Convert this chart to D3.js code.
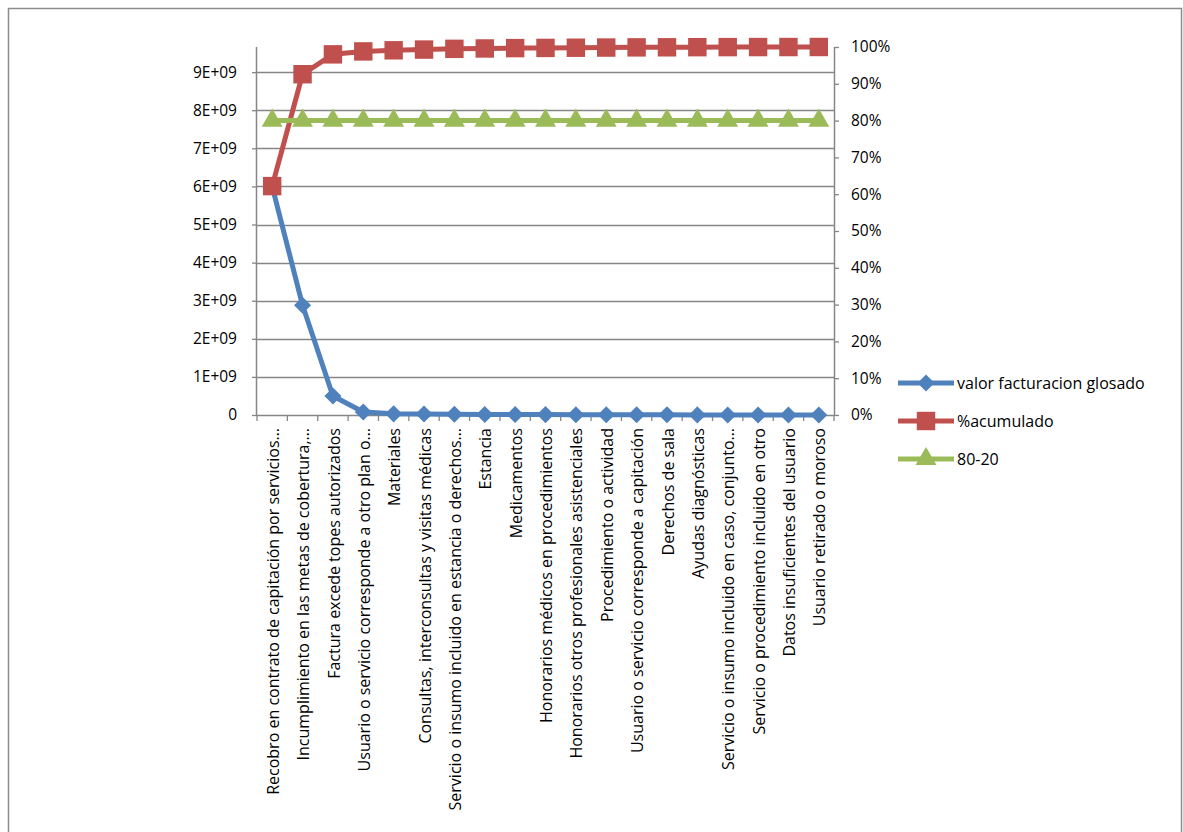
<!DOCTYPE html>
<html><head><meta charset="utf-8">
<script src="https://cdn.jsdelivr.net/npm/d3@7/dist/d3.min.js"></script>
<style>
body{margin:0;background:#fff;}
svg{display:block;font-family:"Open Sans",sans-serif;}
</style></head><body>
<svg id="c" width="1183" height="832"></svg>
<script>
const categories = [
  "Recobro en contrato de capitación por servicios…",
  "Incumplimiento en las metas de cobertura,…",
  "Factura excede topes autorizados",
  "Usuario o servicio corresponde a otro plan o…",
  "Materiales",
  "Consultas, interconsultas y visitas médicas",
  "Servicio o insumo incluido en estancia o derechos…",
  "Estancia",
  "Medicamentos",
  "Honorarios médicos en procedimientos",
  "Honorarios otros profesionales asistenciales",
  "Procedimiento o actividad",
  "Usuario o servicio corresponde a capitación",
  "Derechos de sala",
  "Ayudas diagnósticas",
  "Servicio o insumo incluido en caso, conjunto…",
  "Servicio o procedimiento incluido en otro",
  "Datos insuficientes del usuario",
  "Usuario retirado o moroso"
];
const valorGlosado = [6.0e9, 2.88e9, 0.5e9, 0.08e9, 0.03e9, 0.025e9, 0.02e9, 0.015e9, 0.012e9, 0.01e9, 0.008e9, 0.006e9, 0.005e9, 0.004e9, 0.003e9, 0.002e9, 0.0015e9, 0.001e9, 0.0005e9];
const acumulado = [0.622, 0.926, 0.980, 0.988, 0.991, 0.993, 0.995, 0.996, 0.997, 0.9975, 0.998, 0.9985, 0.999, 0.9992, 0.9995, 0.9997, 0.9998, 0.9999, 1.0];
const regla8020 = [0.8,0.8,0.8,0.8,0.8,0.8,0.8,0.8,0.8,0.8,0.8,0.8,0.8,0.8,0.8,0.8,0.8,0.8,0.8];
const leftTicks = [0,1e9,2e9,3e9,4e9,5e9,6e9,7e9,8e9,9e9];
const leftTickLabels = ["0","1E+09","2E+09","3E+09","4E+09","5E+09","6E+09","7E+09","8E+09","9E+09"];
const rightTicks = [0,0.1,0.2,0.3,0.4,0.5,0.6,0.7,0.8,0.9,1.0];
const leftMax = 9.66e9;
const seriesNames = ["valor facturacion glosado","%acumulado","80-20"];
const colors = ["#4F81BD","#C0504D","#9BBB59"];

const FS = 16;
const svg = d3.select("#c");
const L=257, R=834, T=47, B=415;
const grey="#868686";

svg.append("rect").attr("x",8.5).attr("y",8.5).attr("width",1173).attr("height",840)
  .attr("fill","none").attr("stroke","#8c8c8c").attr("stroke-width",1.5);

const x = d3.scaleBand().domain(categories).range([L,R]).paddingInner(0).paddingOuter(0);
const yL = d3.scaleLinear().domain([0,leftMax]).range([B,T]);
const yR = d3.scaleLinear().domain([0,1]).range([B,T]);
const cx = d => x(d)+x.bandwidth()/2;

// gridlines
svg.append("g").selectAll("line").data(leftTicks.filter(d=>d>0)).join("line")
  .attr("x1",L).attr("x2",R).attr("y1",d=>Math.round(yL(d))+0.5).attr("y2",d=>Math.round(yL(d))+0.5)
  .attr("stroke",grey).attr("stroke-width",1.3);

// left axis
const ga = svg.append("g").attr("transform",`translate(${L},0)`)
  .call(d3.axisLeft(yL).tickValues(leftTicks).tickFormat((d,i)=>leftTickLabels[i]).tickSize(5).tickPadding(15));
ga.select(".domain").attr("d",`M-0.5,${T}V${B}`);
// right axis
const gr = svg.append("g").attr("transform",`translate(${R},0)`)
  .call(d3.axisRight(yR).tickValues(rightTicks).tickFormat(d3.format(".0%")).tickSize(5).tickPadding(12));
gr.select(".domain").attr("d",`M0.5,${T}V${B}`);
// bottom axis
const gb = svg.append("g").attr("transform",`translate(0,${B})`);
gb.append("line").attr("x1",L).attr("x2",R).attr("y1",0.5).attr("y2",0.5).attr("stroke",grey).attr("stroke-width",1.5);
const bounds = categories.map(c=>x(c)).concat([R]);
gb.selectAll("line.t").data(bounds).join("line").attr("class","t")
  .attr("x1",d=>d).attr("x2",d=>d).attr("y1",0).attr("y2",6).attr("stroke",grey).attr("stroke-width",1.3);
gb.selectAll("text").data(categories).join("text")
  .attr("transform",d=>`translate(${cx(d)+1},13) rotate(-90)`)
  .attr("text-anchor","end").attr("dy","0.35em")
  .attr("font-size",FS).attr("fill","#000").text(d=>d);

[ga,gr].forEach(g=>{
  g.attr("font-family",null);
  g.selectAll(".domain").attr("stroke",grey).attr("stroke-width",1.5);
  g.selectAll(".tick line").attr("stroke",grey).attr("stroke-width",1.3);
  g.selectAll(".tick text").attr("font-size",FS-0.5).attr("fill","#000");
});

const diamond = d3.symbol().type(d3.symbolDiamond2).size(185);
const square = d3.symbol().type(d3.symbolSquare).size(340);
const tri = d3.symbol().type(d3.symbolTriangle).size(190);

function series(vals, y, color, sym){
  const line = d3.line().x((d,i)=>cx(categories[i])).y(d=>y(d));
  svg.append("path").datum(vals).attr("d",line).attr("fill","none").attr("stroke",color)
    .attr("stroke-width",5).attr("stroke-linejoin","round");
  svg.append("g").selectAll("path").data(vals).join("path")
    .attr("transform",(d,i)=>`translate(${cx(categories[i])},${y(d)})`)
    .attr("d",sym).attr("fill",color);
}
series(valorGlosado, yL, colors[0], diamond);
series(acumulado, yR, colors[1], square);
series(regla8020, yR, colors[2], tri);

// legend
const syms=[diamond,square,tri];
const lg = svg.append("g");
seriesNames.forEach((n,i)=>{
  const yy = 383 + i*38;
  lg.append("line").attr("x1",898).attr("x2",954).attr("y1",yy).attr("y2",yy).attr("stroke",colors[i]).attr("stroke-width",5);
  lg.append("path").attr("transform",`translate(926,${yy})`).attr("d",syms[i]).attr("fill",colors[i]);
  lg.append("text").attr("x",957).attr("y",yy).attr("dy","0.35em").attr("font-size",FS).text(n);
});
</script></body></html>
